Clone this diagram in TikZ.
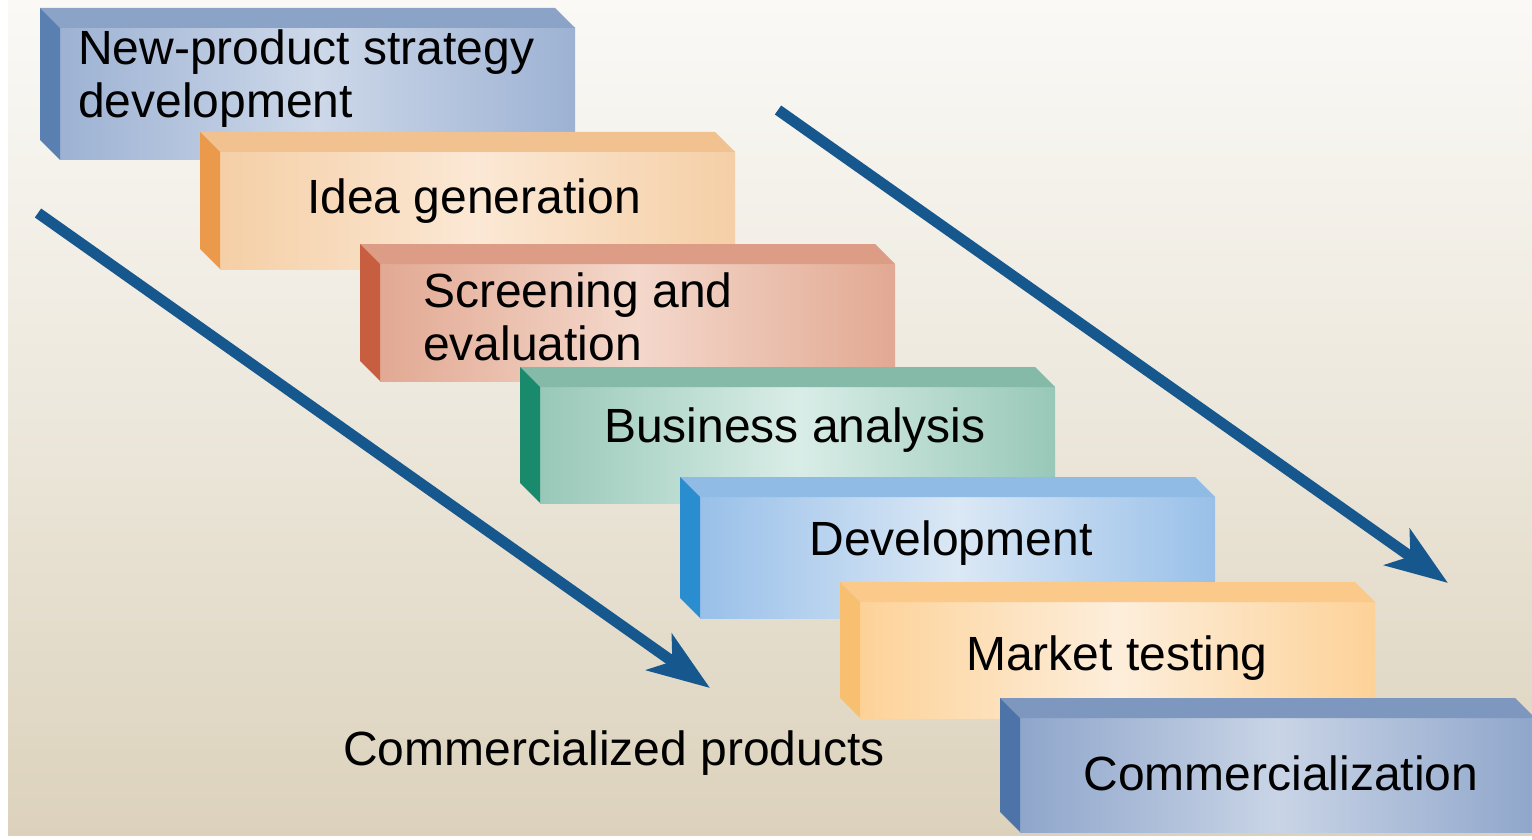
\documentclass[tikz,border=0pt]{standalone}
\usepackage{fontspec}
\setmainfont{Liberation Sans}
\usetikzlibrary{arrows.meta,calc}

% block colours: edge / centre of the front face, top face, side face
\definecolor{stratEdge}{HTML}{9DB2D3}\definecolor{stratMid}{HTML}{CDD8E9}
\definecolor{stratTop}{HTML}{8AA3C7}\definecolor{stratSide}{HTML}{5A7FB1}
\definecolor{ideaEdge}{HTML}{F5CFA6}\definecolor{ideaMid}{HTML}{FBE8D5}
\definecolor{ideaTop}{HTML}{F1C18F}\definecolor{ideaSide}{HTML}{EA9A4A}
\definecolor{screenEdge}{HTML}{E2A993}\definecolor{screenMid}{HTML}{F4D8CB}
\definecolor{screenTop}{HTML}{DC9C86}\definecolor{screenSide}{HTML}{C65E3F}
\definecolor{busEdge}{HTML}{98C8B8}\definecolor{busMid}{HTML}{D9EDE7}
\definecolor{busTop}{HTML}{86BAA8}\definecolor{busSide}{HTML}{1A8A6C}
\definecolor{devEdge}{HTML}{99C0E9}\definecolor{devMid}{HTML}{DBE8F5}
\definecolor{devTop}{HTML}{8FBBE5}\definecolor{devSide}{HTML}{2A8DD0}
\definecolor{marketEdge}{HTML}{FDD298}\definecolor{marketMid}{HTML}{FDEEDB}
\definecolor{marketTop}{HTML}{FBCA8A}\definecolor{marketSide}{HTML}{F9BF70}
\definecolor{commEdge}{HTML}{8FA6CB}\definecolor{commMid}{HTML}{C9D4E6}
\definecolor{commTop}{HTML}{7E97BF}\definecolor{commSide}{HTML}{4D74A8}
\definecolor{flowBlue}{RGB}{22,88,142}
\definecolor{bgTop}{HTML}{FAF9F6}
\definecolor{bgBottom}{HTML}{DCD2BC}

\begin{document}
\begin{tikzpicture}[
		x=1pt,
		y=-1pt,
		font=\fontsize{48}{53}\selectfont,
		face/.style={anchor=north west,minimum width=515,minimum height=117,inner sep=0pt,outer sep=0pt},
		faceshade/.style 2 args={left color=#1,right color=#1,middle color=#2},
		txt/.style={inner sep=0pt,anchor=base},
		txtl/.style={inner sep=0pt,anchor=base west,align=left},
		flow/.style={-{Stealth[length=62,width=44,inset=16]},line width=11pt,flowBlue}
		]
		
		% =====================================================
		% Background
		% =====================================================
		\useasboundingbox (0,0) rectangle (1532,840);
		\fill[white] (0,0) rectangle (1532,840);
		\fill[top color=bgTop,bottom color=bgBottom,middle color=bgTop!55!bgBottom] (8,0) rectangle (1532,835);
		
		% =====================================================
		% Stage blocks (front face + top face + side face)
		% =====================================================
		\node[face,minimum height=132,faceshade={stratEdge}{stratMid}] (strategy) at (60,28) {};
		\fill[stratTop] (strategy.north west) -- ++(-20,-20) -- ++(515,0) -- (strategy.north east) -- cycle;
		\fill[stratSide] (strategy.north west) -- ++(-20,-20) -- ($(strategy.south west)+(-20,-20)$) -- (strategy.south west) -- cycle;
		
		\node[face,faceshade={ideaEdge}{ideaMid}] (idea) at (220,152) {};
		\fill[ideaTop] (idea.north west) -- ++(-20,-20) -- ++(515,0) -- (idea.north east) -- cycle;
		\fill[ideaSide] (idea.north west) -- ++(-20,-20) -- ($(idea.south west)+(-20,-20)$) -- (idea.south west) -- cycle;
		
		\node[face,faceshade={screenEdge}{screenMid}] (screening) at (380,264) {};
		\fill[screenTop] (screening.north west) -- ++(-20,-20) -- ++(515,0) -- (screening.north east) -- cycle;
		\fill[screenSide] (screening.north west) -- ++(-20,-20) -- ($(screening.south west)+(-20,-20)$) -- (screening.south west) -- cycle;
		
		\node[face,minimum height=116,faceshade={busEdge}{busMid}] (business) at (540,387) {};
		\fill[busTop] (business.north west) -- ++(-20,-20) -- ++(515,0) -- (business.north east) -- cycle;
		\fill[busSide] (business.north west) -- ++(-20,-20) -- ($(business.south west)+(-20,-20)$) -- (business.south west) -- cycle;
		
		\node[face,minimum height=121,faceshade={devEdge}{devMid}] (development) at (700,497) {};
		\fill[devTop] (development.north west) -- ++(-20,-20) -- ++(515,0) -- (development.north east) -- cycle;
		\fill[devSide] (development.north west) -- ++(-20,-20) -- ($(development.south west)+(-20,-20)$) -- (development.south west) -- cycle;
		
		\node[face,minimum height=116,faceshade={marketEdge}{marketMid}] (market) at (860,602) {};
		\fill[marketTop] (market.north west) -- ++(-20,-20) -- ++(515,0) -- (market.north east) -- cycle;
		\fill[marketSide] (market.north west) -- ++(-20,-20) -- ($(market.south west)+(-20,-20)$) -- (market.south west) -- cycle;
		
		\node[face,minimum height=114,faceshade={commEdge}{commMid}] (commerce) at (1020,718) {};
		\fill[commTop] (commerce.north west) -- ++(-20,-20) -- ++(515,0) -- (commerce.north east) -- cycle;
		\fill[commSide] (commerce.north west) -- ++(-20,-20) -- ($(commerce.south west)+(-20,-20)$) -- (commerce.south west) -- cycle;
		
		% =====================================================
		% Block labels (base = last line for two-line labels)
		% =====================================================
		\node[txtl] (strategy-lbl) at (78,118) {New-product strategy\\development};
		\node[txt] (idea-lbl) at (474,213) {Idea generation};
		\node[txtl] (screening-lbl) at (423,360) {Screening and\\evaluation};
		\node[txt] (business-lbl) at (795,442) {Business analysis};
		\node[txt] (development-lbl) at (951,555) {Development};
		\node[txt] (market-lbl) at (1117,670) {Market testing};
		\node[txt] (commerce-lbl) at (1281,790) {Commercialization};
		
		\node[txt] (products) at (614,765) {Commercialized products};
		
		% =====================================================
		% Flow arrows
		% =====================================================
		\coordinate (lstart) at (38,213);
		\coordinate (lend) at (710,688);
		\coordinate (rstart) at (778,110);
		\coordinate (rend) at (1448,583);
		\draw[flow] (lstart) -- (lend);
		\draw[flow] (rstart) -- (rend);
		
	\end{tikzpicture}
\end{document}
